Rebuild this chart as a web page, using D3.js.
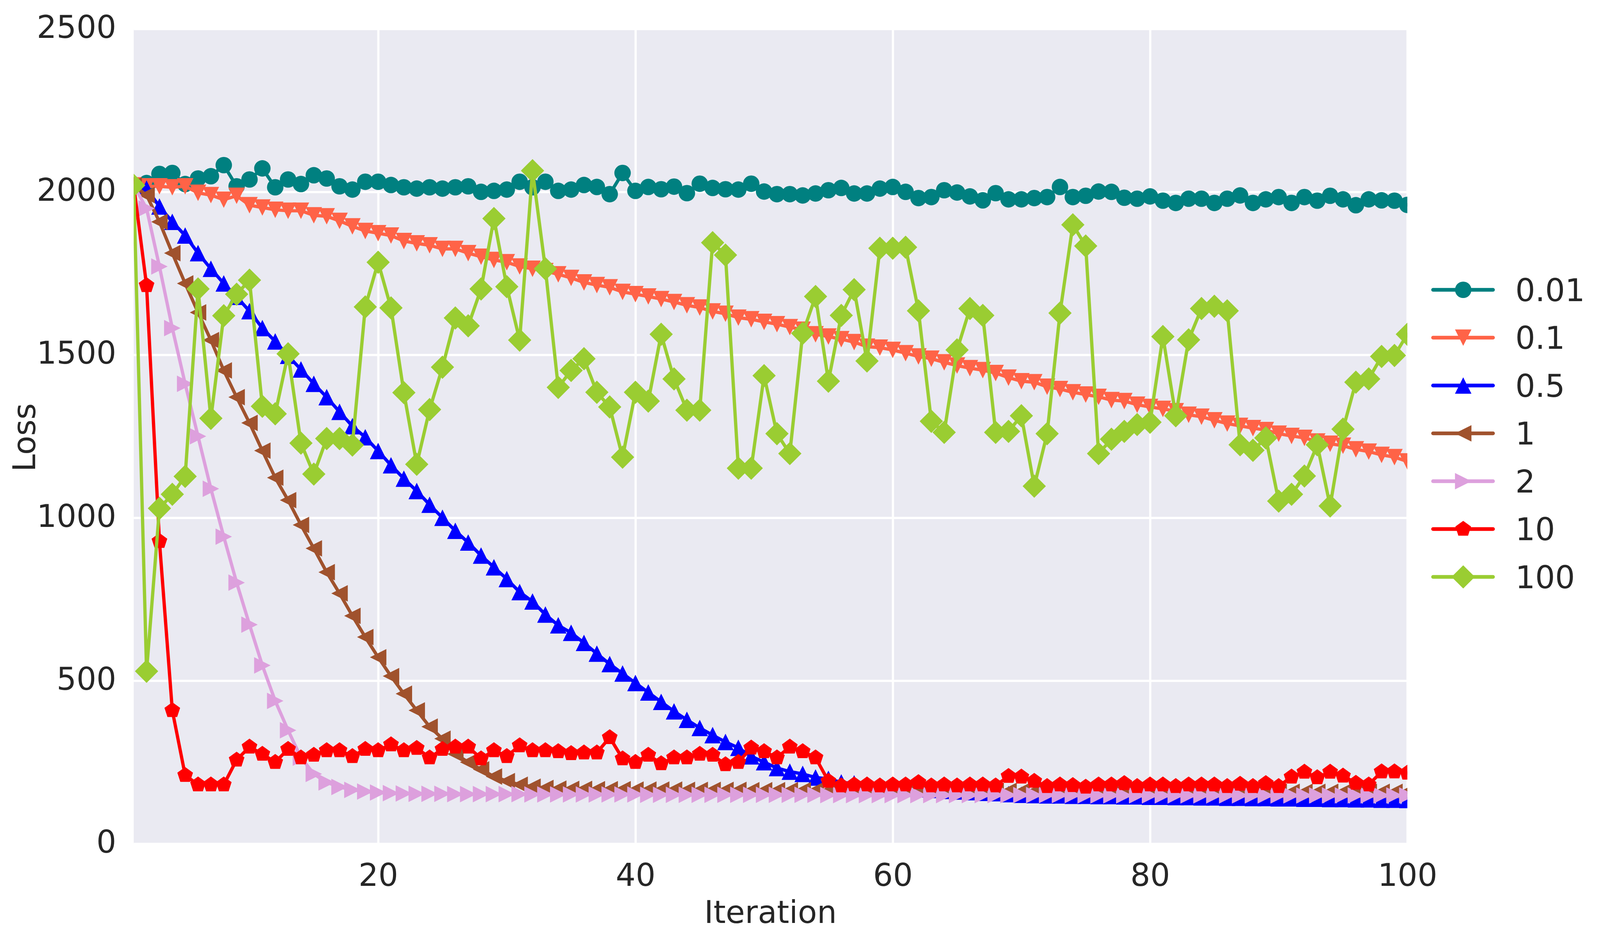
<!DOCTYPE html>
<html>
<head>
<meta charset="utf-8">
<script src="https://cdn.jsdelivr.net/npm/d3@7"></script>
<style>
  html, body { margin: 0; padding: 0; background: white; overflow: hidden; }
  svg { display: block; }
  text { font-family: "DejaVu Sans", sans-serif; fill: #262626; }
</style>
</head>
<body>
<script>
// loss per iteration for each learning rate
let iterations = d3.range(1, 101);
let rates = ["0.01", "0.1", "0.5", "1", "2", "10", "100"];
let colors = ["#008080", "#FF6347", "#0000FF", "#A0522D", "#DDA0DD", "#FF0000", "#9ACD32"];
let shapes = ["circle", "down", "up", "left", "right", "pentagon", "diamond"];
let xTicks = [20, 40, 60, 80, 100];
let yTicks = [0, 500, 1000, 1500, 2000, 2500];

let loss001 = [
  2020,2027,2055,2058,2024,2041,2048,2082,2017,2038,
  2072,2014,2038,2024,2051,2041,2017,2007,2031,2031,
  2021,2014,2010,2014,2010,2014,2017,2000,2003,2007,
  2031,2014,2031,2003,2007,2021,2015,1993,2058,2003,
  2015,2008,2016,1996,2025,2012,2008,2007,2025,2001,
  1993,1993,1989,1995,2005,2012,1995,1995,2010,2015,
  2000,1981,1984,2005,1998,1986,1974,1996,1977,1977,
  1981,1984,2015,1984,1988,2001,2000,1982,1979,1986,
  1973,1966,1979,1979,1966,1979,1989,1966,1977,1984,
  1966,1984,1973,1988,1977,1959,1977,1974,1973,1960];

let loss01 = [
  2020,2017,2017,2014,2017,1997,1990,1976,1988,1959,
  1952,1945,1942,1942,1928,1925,1911,1894,1880,1873,
  1866,1849,1842,1836,1825,1825,1812,1801,1791,1784,
  1771,1764,1757,1747,1736,1722,1714,1707,1693,1686,
  1679,1671,1662,1652,1645,1633,1626,1614,1609,1601,
  1594,1585,1577,1563,1556,1548,1539,1525,1522,1515,
  1505,1495,1488,1477,1467,1459,1453,1444,1430,1419,
  1416,1402,1395,1385,1378,1371,1361,1358,1347,1340,
  1334,1327,1316,1310,1299,1289,1282,1275,1269,1258,
  1251,1245,1234,1227,1221,1210,1203,1193,1186,1173];

let loss05 = [
  2020,2010,1955,1908,1866,1812,1764,1719,1678,1634,
  1582,1541,1497,1455,1411,1370,1325,1281,1247,1205,
  1161,1120,1082,1040,1000,960,924,884,848,812,
  772,743,703,670,647,616,583,551,522,493,
  464,435,406,380,355,333,312,294,268,250,
  232,221,214,203,199,188,185,181,176,172,
  170,167,165,162,160,158,156,155,152,150,
  149,148,148,147,147,146,146,145,145,144,
  144,143,143,142,142,141,141,140,140,139,
  139,138,138,137,137,136,136,135,135,134];

let loss1 = [
  2020,1990,1908,1812,1719,1630,1545,1452,1370,1291,
  1206,1123,1054,978,906,833,768,699,634,572,
  514,460,409,359,322,275,250,228,206,192,
  181,175,171,169,168,168,167,167,167,166,
  166,166,166,165,165,165,165,165,164,164,
  164,164,164,164,163,163,163,163,163,163,
  163,162,162,162,162,162,162,162,162,161,
  161,161,161,161,161,161,161,161,160,160,
  160,160,160,160,160,160,160,160,159,159,
  159,159,159,159,159,159,159,159,159,159];

let loss2 = [
  2020,1949,1771,1582,1411,1250,1089,942,801,672,
  547,438,348,264,214,188,174,165,160,157,
  155,154,153,153,153,152,152,152,152,152,
  152,151,151,151,151,151,151,151,151,151,
  150,150,150,150,150,150,150,150,150,150,
  150,150,150,150,149,149,149,149,149,149,
  149,149,149,149,149,149,149,149,149,149,
  149,149,149,149,148,148,148,148,148,148,
  148,148,148,148,148,148,148,148,148,148,
  148,148,148,148,148,148,148,148,148,148];

let loss10 = [
  2020,1713,928,409,210,181,181,181,257,297,
  275,250,290,264,272,286,286,268,290,286,
  304,286,293,264,290,297,297,261,286,268,
  301,286,286,283,277,279,279,326,261,250,
  272,246,264,264,275,272,243,250,294,283,
  264,297,283,264,192,178,181,181,178,181,
  181,188,178,181,178,181,181,178,207,205,
  192,176,181,179,174,181,181,185,176,181,
  181,176,181,181,181,176,183,176,185,176,
  205,220,203,220,208,186,181,221,221,217];

let loss100 = [
  2020,529,1029,1072,1127,1702,1305,1620,1686,1729,
  1342,1319,1503,1229,1134,1243,1243,1223,1647,1784,
  1644,1384,1164,1332,1462,1613,1589,1702,1918,1709,
  1545,2065,1764,1400,1452,1488,1385,1340,1186,1385,
  1358,1563,1426,1330,1330,1844,1806,1152,1152,1436,
  1258,1197,1566,1679,1419,1621,1700,1481,1827,1827,
  1830,1635,1296,1262,1515,1642,1621,1262,1265,1313,
  1097,1258,1628,1899,1834,1197,1241,1265,1286,1293,
  1556,1313,1546,1642,1649,1635,1224,1207,1245,1051,
  1072,1128,1224,1036,1272,1416,1426,1495,1498,1563];

let allLoss = [loss001, loss01, loss05, loss1, loss2, loss10, loss100];

//layout is measured on a 4667x2422 page, then fitted to the real window
let W = window.innerWidth || 4667;
let H = window.innerHeight || 2422;
let sx = W / 4667, sy = H / 2422;
let k = Math.sqrt(sx * sy);
function px(v){ return v * sx; }
function py(v){ return v * sy; }

let plotLeft = px(390), plotRight = px(4105), plotTop = py(74), plotBottom = py(2160);
let fontSize = 80 * sy;

let x = d3.scaleLinear().domain([1, 100]).range([plotLeft, plotRight]);
let y = d3.scaleLinear().domain([0, 2500]).range([plotBottom, plotTop]);

//marker outlines, matplotlib style (size 45)
function markerPath(shape){
  let h = 22.5 * k;
  if(shape == "circle"){
    return "M" + h + ",0A" + h + "," + h + " 0 1,1 " + (-h) + ",0A" + h + "," + h + " 0 1,1 " + h + ",0Z";
  }
  else if(shape == "up"){
    return "M0," + (-h) + "L" + h + "," + h + "L" + (-h) + "," + h + "Z";
  }
  else if(shape == "down"){
    return "M0," + h + "L" + h + "," + (-h) + "L" + (-h) + "," + (-h) + "Z";
  }
  else if(shape == "left"){
    return "M" + (-h) + ",0L" + h + "," + (-h) + "L" + h + "," + h + "Z";
  }
  else if(shape == "right"){
    return "M" + h + ",0L" + (-h) + "," + (-h) + "L" + (-h) + "," + h + "Z";
  }
  else if(shape == "pentagon"){
    let pts = d3.range(5).map(function(j){
      let a = (-90 + j * 72) * Math.PI / 180;
      return [h * Math.cos(a), h * Math.sin(a)];
    });
    return "M" + pts.join("L") + "Z";
  }
  else{
    let d = 2 * h / Math.SQRT2;
    return "M0," + (-d) + "L" + d + ",0L0," + d + "L" + (-d) + ",0Z";
  }
}

let viz = d3.select("body")
              .append("svg")
                .attr("width", W)
                .attr("height", H)
;

viz.append("defs").append("clipPath")
      .attr("id", "plotclip")
    .append("rect")
      .attr("x", plotLeft)
      .attr("y", plotTop)
      .attr("width", plotRight - plotLeft)
      .attr("height", plotBottom - plotTop)
;

viz.append("rect")
      .attr("x", plotLeft)
      .attr("y", plotTop)
      .attr("width", plotRight - plotLeft)
      .attr("height", plotBottom - plotTop)
      .attr("fill", "#EAEAF2")
;

//y axis with grid
let yAxis = viz.append("g")
      .attr("transform", "translate(" + plotLeft + ",0)")
      .call(d3.axisLeft(y).tickValues(yTicks).tickSize(-(plotRight - plotLeft)).tickPadding(px(51)).tickFormat(d3.format("d")))
;
yAxis.select(".domain").remove();
yAxis.selectAll("line").attr("stroke", "white").attr("stroke-width", 6 * k);
yAxis.selectAll("text")
      .attr("font-size", fontSize)
      .attr("dy", "0.28em")
      .style("font-family", "DejaVu Sans")
      .attr("fill", "#262626")
;

//x axis with grid
let xAxis = viz.append("g")
      .attr("transform", "translate(0," + plotBottom + ")")
      .call(d3.axisBottom(x).tickValues(xTicks).tickSize(-(plotBottom - plotTop)).tickPadding(py(51)).tickFormat(d3.format("d")))
;
xAxis.select(".domain").remove();
xAxis.selectAll("line").attr("stroke", "white").attr("stroke-width", 6 * k);
xAxis.selectAll("text")
      .attr("font-size", fontSize)
      .style("font-family", "DejaVu Sans")
      .attr("fill", "#262626")
;

//axis titles
viz.append("text")
      .attr("x", (plotLeft + plotRight) / 2)
      .attr("y", py(2363))
      .attr("text-anchor", "middle")
      .attr("font-size", fontSize)
      .text("Iteration")
;

viz.append("text")
      .attr("transform", "translate(" + px(102) + "," + py(1120) + ") rotate(-90)")
      .attr("text-anchor", "middle")
      .attr("font-size", fontSize)
      .text("Loss")
;

//series: line then markers, one after the other
let plot = viz.append("g").attr("clip-path", "url(#plotclip)");

let line = d3.line()
      .x(function(d, i){ return x(iterations[i]); })
      .y(function(d){ return y(d); })
;

for(let s = 0; s < rates.length; s++){
  let group = plot.append("g").attr("class", "series" + s);

  group.append("path")
        .attr("d", line(allLoss[s]))
        .attr("fill", "none")
        .attr("stroke", colors[s])
        .attr("stroke-width", 9 * k)
        .attr("stroke-linejoin", "round")
        .attr("stroke-linecap", "round")
  ;

  group.selectAll(".marker").data(allLoss[s])
        .enter()
          .append("path")
          .attr("class", "marker")
          .attr("d", markerPath(shapes[s]))
          .attr("fill", colors[s])
          .attr("transform", function(d, i){
            return "translate(" + x(iterations[i]) + "," + y(d) + ")";
          })
  ;
}

//legend outside on the right
let legend = viz.selectAll(".legend").data(rates)
      .enter()
        .append("g")
        .attr("class", "legend")
        .attr("transform", function(d, i){
          return "translate(" + px(4180) + "," + py(742 + i * 122.5) + ")";
        })
;

legend.append("line")
      .attr("x1", 0)
      .attr("x2", px(175))
      .attr("stroke", function(d, i){ return colors[i]; })
      .attr("stroke-width", 10 * k)
      .attr("stroke-linecap", "round")
;

legend.append("path")
      .attr("d", function(d, i){ return markerPath(shapes[i]); })
      .attr("transform", "translate(" + px(88) + ",0)")
      .attr("fill", function(d, i){ return colors[i]; })
;

legend.append("text")
      .attr("x", px(240))
      .attr("dy", "0.36em")
      .attr("font-size", fontSize)
      .text(function(d){ return d; })
;
</script>
</body>
</html>
